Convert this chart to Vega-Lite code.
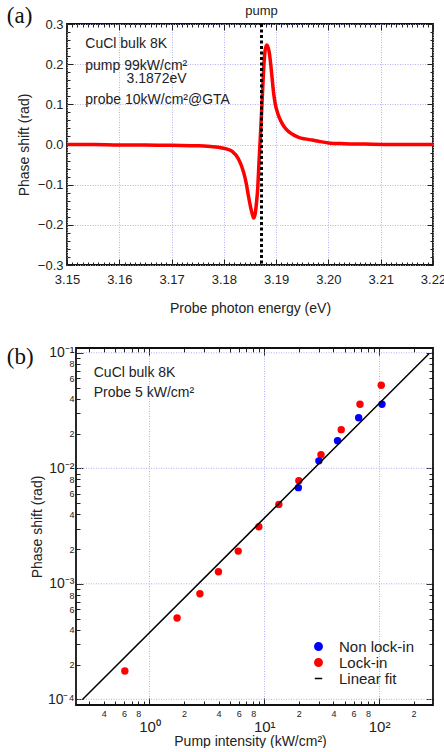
{
  "$schema": "https://vega.github.io/schema/vega-lite/v6.json",
  "padding": {"left": 5, "top": 4, "right": 0, "bottom": 0},
  "spacing": 29,
  "resolve": {"scale": {"color": "independent", "shape": "independent"}, "legend": {"color": "independent", "shape": "independent"}},
  "config": {
    "view": {"stroke": "#111111", "strokeWidth": 1.8},
    "font": "Liberation Sans",
    "axis": {"domain": false, "labelFont": "Liberation Sans", "titleFont": "Liberation Sans", "labelColor": "#222222", "titleColor": "#222222", "tickColor": "#222222", "titleFontWeight": "normal", "labelOverlap": false, "labelFlush": false, "gridColor": "#b0b0f0", "gridDash": [1, 1.5], "gridWidth": 1, "tickWidth": 1}
  },
  "vconcat": [
    {
      "width": 366,
      "height": 241,
      "layer": [
        {
          "data": {"values": [
            {"E": 3.150, "v": 0.000}, {"E": 3.155, "v": 0.000}, {"E": 3.160, "v": -0.001}, {"E": 3.165, "v": -0.001},
            {"E": 3.170, "v": -0.002}, {"E": 3.1752, "v": -0.003}, {"E": 3.1775, "v": -0.005}, {"E": 3.179, "v": -0.007},
            {"E": 3.1805, "v": -0.011}, {"E": 3.1816, "v": -0.017}, {"E": 3.1828, "v": -0.036}, {"E": 3.1838, "v": -0.070},
            {"E": 3.1843, "v": -0.098}, {"E": 3.1847, "v": -0.128}, {"E": 3.1851, "v": -0.155}, {"E": 3.1854, "v": -0.171},
            {"E": 3.1857, "v": -0.183}, {"E": 3.1860, "v": -0.172}, {"E": 3.1862, "v": -0.150}, {"E": 3.1865, "v": -0.105},
            {"E": 3.1867, "v": -0.050}, {"E": 3.1869, "v": 0.000}, {"E": 3.1871, "v": 0.050}, {"E": 3.1873, "v": 0.103},
            {"E": 3.1876, "v": 0.185}, {"E": 3.1879, "v": 0.235}, {"E": 3.1882, "v": 0.248}, {"E": 3.1885, "v": 0.240},
            {"E": 3.1887, "v": 0.228}, {"E": 3.1890, "v": 0.195}, {"E": 3.1892, "v": 0.169}, {"E": 3.1895, "v": 0.130},
            {"E": 3.1898, "v": 0.103}, {"E": 3.1903, "v": 0.078}, {"E": 3.1908, "v": 0.061}, {"E": 3.1915, "v": 0.045},
            {"E": 3.1924, "v": 0.032}, {"E": 3.1933, "v": 0.024}, {"E": 3.1943, "v": 0.018}, {"E": 3.1955, "v": 0.014},
            {"E": 3.1969, "v": 0.011}, {"E": 3.1981, "v": 0.008}, {"E": 3.2000, "v": 0.004}, {"E": 3.2030, "v": 0.002},
            {"E": 3.2070, "v": 0.001}, {"E": 3.2120, "v": 0.000}, {"E": 3.2200, "v": 0.000}
          ]},
          "mark": {"type": "line", "color": "#ff0000", "strokeWidth": 3.5, "interpolate": "monotone"},
          "encoding": {
            "x": {
              "field": "E", "type": "quantitative",
              "scale": {"domain": [3.15, 3.22], "nice": false, "zero": false},
              "axis": {
                "orient": "bottom",
                "values": [3.15,3.151,3.152,3.153,3.154,3.155,3.156,3.157,3.158,3.159,3.16,3.161,3.162,3.163,3.164,3.165,3.166,3.167,3.168,3.169,3.17,3.171,3.172,3.173,3.174,3.175,3.176,3.177,3.178,3.179,3.18,3.181,3.182,3.183,3.184,3.185,3.186,3.187,3.188,3.189,3.19,3.191,3.192,3.193,3.194,3.195,3.196,3.197,3.198,3.199,3.2,3.201,3.202,3.203,3.204,3.205,3.206,3.207,3.208,3.209,3.21,3.211,3.212,3.213,3.214,3.215,3.216,3.217,3.218,3.219,3.22],
                "labelExpr": "abs(datum.value*100 - round(datum.value*100)) < 0.001 ? format(datum.value, '.2f') : ''",
                "tickSize": {"condition": {"test": "abs(datum.value*100 - round(datum.value*100)) < 0.001", "value": -6}, "value": -3},
                "grid": true,
                "gridOpacity": {"condition": {"test": "abs(datum.value*100 - round(datum.value*100)) < 0.001", "value": 1}, "value": 0},
                "labelFontSize": 13,
                "labelPadding": 14,
                "title": "Probe photon energy (eV)",
                "titleFontSize": 14,
                "titlePadding": 12
              }
            },
            "y": {
              "field": "v", "type": "quantitative",
              "scale": {"domain": [-0.3, 0.3], "nice": false, "zero": false},
              "axis": {
                "orient": "left",
                "values": [-0.3,-0.28,-0.26,-0.24,-0.22,-0.2,-0.18,-0.16,-0.14,-0.12,-0.1,-0.08,-0.06,-0.04,-0.02,0,0.02,0.04,0.06,0.08,0.1,0.12,0.14,0.16,0.18,0.2,0.22,0.24,0.26,0.28,0.3],
                "labelExpr": "abs(datum.value*10 - round(datum.value*10)) < 0.001 ? format(datum.value, '.1f') : ''",
                "tickSize": {"condition": {"test": "abs(datum.value*10 - round(datum.value*10)) < 0.001", "value": -6}, "value": -3},
                "grid": true,
                "gridOpacity": {"condition": {"test": "abs(datum.value*10 - round(datum.value*10)) < 0.001", "value": 1}, "value": 0},
                "labelFontSize": 13,
                "labelPadding": 10,
                "title": "Phase shift (rad)",
                "titleFontSize": 14,
                "titlePadding": 6
              }
            }
          }
        },
        {
          "data": {"values": [{"E": 3.1872}]},
          "mark": {"type": "rule", "color": "#000000", "strokeWidth": 3, "strokeDash": [3, 2.5]},
          "encoding": {
            "x": {"field": "E", "type": "quantitative", "axis": null}
          }
        },
        {
          "data": {"values": [
            {"E": 3.1535, "v": 0.25, "t": "CuCl bulk 8K"},
            {"E": 3.1535, "v": 0.196, "t": "pump 99kW/cm\u00b2"},
            {"E": 3.1614, "v": 0.163, "t": "3.1872eV"},
            {"E": 3.1535, "v": 0.111, "t": "probe 10kW/cm\u00b2@GTA"}
          ]},
          "mark": {"type": "text", "align": "left", "baseline": "middle", "fontSize": 14, "color": "#222222"},
          "encoding": {
            "x": {
              "field": "E", "type": "quantitative",
              "axis": {
                "orient": "top",
                "values": [3.15,3.151,3.152,3.153,3.154,3.155,3.156,3.157,3.158,3.159,3.16,3.161,3.162,3.163,3.164,3.165,3.166,3.167,3.168,3.169,3.17,3.171,3.172,3.173,3.174,3.175,3.176,3.177,3.178,3.179,3.18,3.181,3.182,3.183,3.184,3.185,3.186,3.187,3.188,3.189,3.19,3.191,3.192,3.193,3.194,3.195,3.196,3.197,3.198,3.199,3.2,3.201,3.202,3.203,3.204,3.205,3.206,3.207,3.208,3.209,3.21,3.211,3.212,3.213,3.214,3.215,3.216,3.217,3.218,3.219,3.22],
                "labels": false, "title": null, "grid": false,
                "tickSize": {"condition": {"test": "abs(datum.value*100 - round(datum.value*100)) < 0.001", "value": -6}, "value": -3}
              }
            },
            "y": {
              "field": "v", "type": "quantitative",
              "axis": {
                "orient": "right",
                "values": [-0.3,-0.28,-0.26,-0.24,-0.22,-0.2,-0.18,-0.16,-0.14,-0.12,-0.1,-0.08,-0.06,-0.04,-0.02,0,0.02,0.04,0.06,0.08,0.1,0.12,0.14,0.16,0.18,0.2,0.22,0.24,0.26,0.28,0.3],
                "labels": false, "title": null, "grid": false,
                "tickSize": {"condition": {"test": "abs(datum.value*10 - round(datum.value*10)) < 0.001", "value": -6}, "value": -3}
              }
            },
            "text": {"field": "t"}
          }
        },
        {
          "data": {"values": [{"E": 3.1872, "v": 0.332, "t": "pump"}]},
          "mark": {"type": "text", "align": "center", "baseline": "middle", "fontSize": 13, "color": "#222222"},
          "encoding": {
            "x": {"field": "E", "type": "quantitative", "axis": null},
            "y": {"field": "v", "type": "quantitative", "axis": null},
            "text": {"field": "t"}
          }
        },
        {
          "data": {"values": [{"E": 3.1385, "v": 0.32, "t": "(a)"}]},
          "mark": {"type": "text", "align": "left", "baseline": "middle", "fontSize": 23, "font": "Liberation Serif", "color": "#111111"},
          "encoding": {
            "x": {"field": "E", "type": "quantitative", "axis": null},
            "y": {"field": "v", "type": "quantitative", "axis": null},
            "text": {"field": "t"}
          }
        }
      ]
    },
    {
      "width": 366,
      "height": 357,
      "view": {"stroke": null},
      "layer": [
        {
          "data": {"values": [
            {"g": 0.0001, "a": 0.229, "b": 295},
            {"g": 0.001, "a": 0.229, "b": 295},
            {"g": 0.01, "a": 0.229, "b": 295},
            {"g": 0.1, "a": 0.229, "b": 295}
          ]},
          "mark": {"type": "rule", "color": "#b0b0f0", "strokeDash": [1, 1.5], "strokeWidth": 1},
          "encoding": {
            "x": {"field": "a", "type": "quantitative", "axis": null},
            "x2": {"field": "b"},
            "y": {"field": "g", "type": "quantitative", "axis": null}
          }
        },
        {
          "data": {"values": [
            {"I": 0.61, "ps": 0.000176, "series": "Lock-in"},
            {"I": 1.74, "ps": 0.000506, "series": "Lock-in"},
            {"I": 2.75, "ps": 0.00082, "series": "Lock-in"},
            {"I": 3.99, "ps": 0.00127, "series": "Lock-in"},
            {"I": 5.93, "ps": 0.00192, "series": "Lock-in"},
            {"I": 8.97, "ps": 0.00312, "series": "Lock-in"},
            {"I": 13.4, "ps": 0.00487, "series": "Lock-in"},
            {"I": 20.0, "ps": 0.0078, "series": "Lock-in"},
            {"I": 31.2, "ps": 0.0131, "series": "Lock-in"},
            {"I": 46.8, "ps": 0.0216, "series": "Lock-in"},
            {"I": 68.2, "ps": 0.0358, "series": "Lock-in"},
            {"I": 104.5, "ps": 0.0524, "series": "Lock-in"},
            {"I": 19.8, "ps": 0.0068, "series": "Non lock-in"},
            {"I": 29.9, "ps": 0.0116, "series": "Non lock-in"},
            {"I": 43.5, "ps": 0.0173, "series": "Non lock-in"},
            {"I": 66.4, "ps": 0.0274, "series": "Non lock-in"},
            {"I": 106, "ps": 0.0358, "series": "Non lock-in"}
          ]},
          "mark": {"type": "point", "filled": true, "size": 55, "opacity": 1},
          "encoding": {
            "x": {
              "field": "I", "type": "quantitative",
              "scale": {"type": "log", "domain": [0.1912, 295], "nice": false},
              "axis": {
                "orient": "bottom",
                "values": [0.3,0.4,0.5,0.6,0.7,0.8,0.9,1,2,3,4,5,6,7,8,9,10,20,30,40,50,60,70,80,90,100,200],
                "labelExpr": "abs(log(datum.value)/LN10 - round(log(datum.value)/LN10)) < 0.001 ? '10' + (round(log(datum.value)/LN10) == 0 ? '\u2070' : round(log(datum.value)/LN10) == 1 ? '\u00b9' : '\u00b2') : (round(datum.value / pow(10, floor(log(datum.value)/LN10 + 0.000001))) % 2 == 0 ? '' + round(datum.value / pow(10, floor(log(datum.value)/LN10 + 0.000001))) : '')",
                "tickSize": {"condition": {"test": "abs(log(datum.value)/LN10 - round(log(datum.value)/LN10)) < 0.001", "value": -7}, "value": -4},
                "labelFontSize": {"condition": {"test": "abs(log(datum.value)/LN10 - round(log(datum.value)/LN10)) < 0.001", "value": 15}, "value": 9},
                "labelPadding": {"condition": {"test": "abs(log(datum.value)/LN10 - round(log(datum.value)/LN10)) < 0.001", "value": 21}, "value": 8},
                "grid": true,
                "gridOpacity": {"condition": {"test": "abs(log(datum.value)/LN10 - round(log(datum.value)/LN10)) < 0.001", "value": 1}, "value": 0},
                "title": "Pump intensity (kW/cm\u00b2)",
                "titleFontSize": 14,
                "titlePadding": 0
              }
            },
            "y": {
              "field": "ps", "type": "quantitative",
              "scale": {"type": "log", "domain": [0.0000893, 0.11], "nice": false},
              "axis": {
                "orient": "left",
                "offset": -9,
                "values": [0.0001,0.0002,0.0003,0.0004,0.0005,0.0006,0.0007,0.0008,0.0009,0.001,0.002,0.003,0.004,0.005,0.006,0.007,0.008,0.009,0.01,0.02,0.03,0.04,0.05,0.06,0.07,0.08,0.09,0.1],
                "labelExpr": "abs(log(datum.value)/LN10 - round(log(datum.value)/LN10)) < 0.001 ? '10' + (round(log(datum.value)/LN10) == -1 ? '\u207b\u00b9' : round(log(datum.value)/LN10) == -2 ? '\u207b\u00b2' : round(log(datum.value)/LN10) == -3 ? '\u207b\u00b3' : '\u207b\u2074') : (round(datum.value / pow(10, floor(log(datum.value)/LN10 + 0.000001))) % 2 == 0 ? '' + round(datum.value / pow(10, floor(log(datum.value)/LN10 + 0.000001))) : '')",
                "tickSize": {"condition": {"test": "abs(log(datum.value)/LN10 - round(log(datum.value)/LN10)) < 0.001", "value": -7}, "value": -4},
                "labelFontSize": {"condition": {"test": "abs(log(datum.value)/LN10 - round(log(datum.value)/LN10)) < 0.001", "value": 14}, "value": 9},
                "labelPadding": {"condition": {"test": "abs(log(datum.value)/LN10 - round(log(datum.value)/LN10)) < 0.001", "value": 9}, "value": 6},
                "grid": false,
                "title": "Phase shift (rad)",
                "titleFontSize": 14,
                "titlePadding": 3
              }
            },
            "color": {
              "field": "series", "type": "nominal",
              "scale": {"domain": ["Non lock-in", "Lock-in", "Linear fit"], "range": ["#0000ff", "#ff0000", "#000000"]},
              "legend": {"orient": "bottom-right", "title": null, "labelFontSize": 15, "labelColor": "#222222", "symbolSize": 55, "offset": 18, "rowPadding": -1, "labelOffset": 13, "symbolStrokeWidth": 1.5}
            },
            "shape": {
              "field": "series", "type": "nominal",
              "scale": {"domain": ["Non lock-in", "Lock-in", "Linear fit"], "range": ["circle", "circle", "stroke"]},
              "legend": {"orient": "bottom-right", "title": null, "labelFontSize": 15, "labelColor": "#222222", "symbolSize": 55, "offset": 18, "rowPadding": -1, "labelOffset": 13, "symbolStrokeWidth": 1.5}
            }
          }
        },
        {
          "data": {"values": [
            {"I": 0.262, "ps": 0.0001, "series": "Linear fit"},
            {"I": 272, "ps": 0.098, "series": "Linear fit"}
          ]},
          "mark": {"type": "line", "strokeWidth": 1.5},
          "encoding": {
            "x": {
              "field": "I", "type": "quantitative",
              "axis": {
                "orient": "top",
                "values": [0.3,0.4,0.5,0.6,0.7,0.8,0.9,1,2,3,4,5,6,7,8,9,10,20,30,40,50,60,70,80,90,100,200],
                "labels": false, "title": null, "grid": false,
                "tickSize": {"condition": {"test": "abs(log(datum.value)/LN10 - round(log(datum.value)/LN10)) < 0.001", "value": -7}, "value": -4}
              }
            },
            "y": {
              "field": "ps", "type": "quantitative",
              "axis": {
                "orient": "right",
                "values": [0.0001,0.0002,0.0003,0.0004,0.0005,0.0006,0.0007,0.0008,0.0009,0.001,0.002,0.003,0.004,0.005,0.006,0.007,0.008,0.009,0.01,0.02,0.03,0.04,0.05,0.06,0.07,0.08,0.09,0.1],
                "labels": false, "title": null, "grid": false,
                "tickSize": {"condition": {"test": "abs(log(datum.value)/LN10 - round(log(datum.value)/LN10)) < 0.001", "value": -7}, "value": -4}
              }
            },
            "color": {"field": "series", "type": "nominal"}
          }
        },
        {
          "data": {"values": [{"a": 0.229, "b": 295, "lo": 0.0000893, "hi": 0.11}]},
          "mark": {"type": "rect", "filled": false, "stroke": "#111111", "strokeWidth": 1.8},
          "encoding": {
            "x": {"field": "a", "type": "quantitative", "axis": null},
            "x2": {"field": "b"},
            "y": {"field": "lo", "type": "quantitative", "axis": null},
            "y2": {"field": "hi"}
          }
        },
        {
          "data": {"values": [
            {"I": 0.327, "ps": 0.0673, "t": "CuCl bulk 8K"},
            {"I": 0.327, "ps": 0.0452, "t": "Probe 5 kW/cm\u00b2"}
          ]},
          "mark": {"type": "text", "align": "left", "baseline": "middle", "fontSize": 14, "color": "#222222"},
          "encoding": {
            "x": {"field": "I", "type": "quantitative", "axis": null},
            "y": {"field": "ps", "type": "quantitative", "axis": null},
            "text": {"field": "t"}
          }
        },
        {
          "data": {"values": [{"I": 0.0571, "ps": 0.092, "t": "(b)"}]},
          "mark": {"type": "text", "align": "left", "baseline": "middle", "fontSize": 23, "font": "Liberation Serif", "color": "#111111"},
          "encoding": {
            "x": {"field": "I", "type": "quantitative", "axis": null},
            "y": {"field": "ps", "type": "quantitative", "axis": null},
            "text": {"field": "t"}
          }
        }
      ]
    }
  ]
}
